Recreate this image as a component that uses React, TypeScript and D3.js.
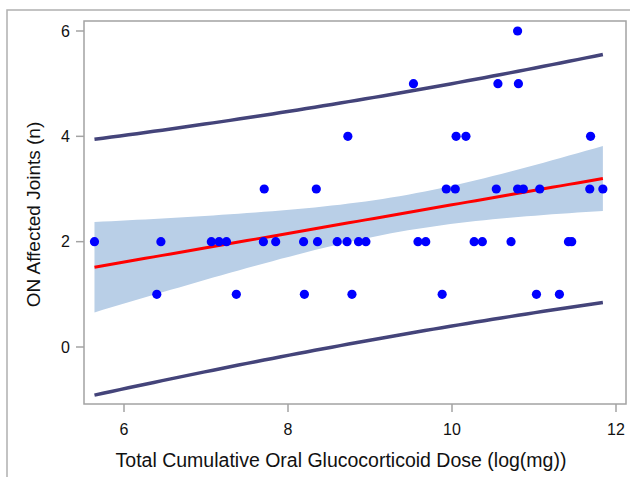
import React from "react";
import * as d3 from "d3";

// log cumulative dose per patient, grouped by number of affected joints
const dose1 = [6.4, 7.37, 8.2, 8.78, 9.88, 11.03, 11.31];
const dose2 = [
  5.64, 6.45, 7.065, 7.16, 7.25, 7.7, 7.85, 8.19, 8.36, 8.6, 8.72, 8.86, 8.95,
  9.585, 9.68, 10.27, 10.37, 10.72, 11.42, 11.46
];
const dose3 = [7.71, 8.345, 9.93, 10.04, 10.54, 10.8, 10.87, 11.07, 11.68, 11.84];
const dose4 = [8.73, 10.05, 10.17, 11.69];
const dose5 = [9.53, 10.56, 10.81];
const dose6 = [10.8];
const jointCounts = [1, 2, 3, 4, 5, 6];

const xTicks = [6, 8, 10, 12];
const yTicks = [0, 2, 4, 6];

const W = 630;
const H = 477;
const margin = { left: 84, top: 21, right: 626, bottom: 404 };
const fontFamily = "'Liberation Sans', Arial, sans-serif";

const points = [dose1, dose2, dose3, dose4, dose5, dose6].flatMap((arr, i) =>
  arr.map(x => ({ x, y: jointCounts[i] }))
);

// ordinary least squares with 95% confidence / prediction limits
function fitModel(data: { x: number; y: number }[]) {
  const n = data.length;
  const xbar = d3.mean(data, d => d.x) as number;
  const ybar = d3.mean(data, d => d.y) as number;
  const sxx = d3.sum(data, d => (d.x - xbar) ** 2);
  const sxy = d3.sum(data, d => (d.x - xbar) * (d.y - ybar));
  const slope = sxy / sxx;
  const intercept = ybar - slope * xbar;
  const sse = d3.sum(data, d => (d.y - intercept - slope * d.x) ** 2);
  const s = Math.sqrt(sse / (n - 2));
  const t = 2.017;
  return (x: number) => {
    const yhat = intercept + slope * x;
    const lev = 1 / n + (x - xbar) ** 2 / sxx;
    const ci = t * s * Math.sqrt(lev);
    const pi = t * s * Math.sqrt(1 + lev);
    return { x, yhat, cl: yhat - ci, cu: yhat + ci, pl: yhat - pi, pu: yhat + pi };
  };
}

export default function App() {
  const x = d3
    .scaleLinear()
    .domain([6 - 40 / 82, 12 + 10 / 82])
    .range([margin.left, margin.right]);
  const y = d3
    .scaleLinear()
    .domain([-57 / 52.667, 6 + 10 / 52.667])
    .range([margin.bottom, margin.top]);

  const model = fitModel(points);
  const [xmin, xmax] = d3.extent(points, d => d.x) as [number, number];
  const curve = d3
    .range(0, 61)
    .map(i => model(xmin + ((xmax - xmin) * i) / 60));

  const band = d3
    .area<any>()
    .x(d => x(d.x))
    .y0(d => y(d.cl))
    .y1(d => y(d.cu));
  const line = (key: string) =>
    d3
      .line<any>()
      .x(d => x(d.x))
      .y(d => y(d[key]))(curve) as string;

  const frame = "#a3a3a3";

  return (
    <svg
      width={W}
      height={H}
      style={{ position: "absolute", left: 0, top: 0, background: "#fff" }}
      fontFamily={fontFamily}
    >
      <rect x={7} y={10} width={640} height={480} fill="none" stroke="#b0b0b0" strokeWidth={1.5} />

      <path d={band(curve) as string} fill="#b9cfe7" />
      <path d={line("pu")} fill="none" stroke="#44447a" strokeWidth={3.5} />
      <path d={line("pl")} fill="none" stroke="#44447a" strokeWidth={3.5} />
      <path d={line("yhat")} fill="none" stroke="#ff0000" strokeWidth={3} />

      {points.map((d, i) => (
        <circle key={i} cx={x(d.x)} cy={y(d.y)} r={4.6} fill="#0000ff" />
      ))}

      <rect
        x={margin.left}
        y={margin.top}
        width={margin.right - margin.left}
        height={margin.bottom - margin.top}
        fill="none"
        stroke={frame}
        strokeWidth={1.5}
      />

      {yTicks.map(t => (
        <g key={t}>
          <line x1={margin.left - 8} x2={margin.left} y1={y(t)} y2={y(t)} stroke={frame} strokeWidth={1.5} />
          <text x={70} y={y(t)} dy="0.36em" textAnchor="end" fontSize={16} fill="#111">
            {t}
          </text>
        </g>
      ))}
      {xTicks.map(t => (
        <g key={t}>
          <line x1={x(t)} x2={x(t)} y1={margin.bottom} y2={margin.bottom + 8} stroke={frame} strokeWidth={1.5} />
          <text x={x(t)} y={435} textAnchor="middle" fontSize={16} fill="#111">
            {t}
          </text>
        </g>
      ))}

      <text x={341} y={467} textAnchor="middle" fontSize={19.5} fill="#111">
        Total Cumulative Oral Glucocorticoid Dose (log(mg))
      </text>
      <text
        transform={`translate(40,${(margin.top + margin.bottom) / 2 + 2}) rotate(-90)`}
        textAnchor="middle"
        fontSize={19}
        fill="#111"
      >
        ON Affected Joints (n)
      </text>
    </svg>
  );
}
